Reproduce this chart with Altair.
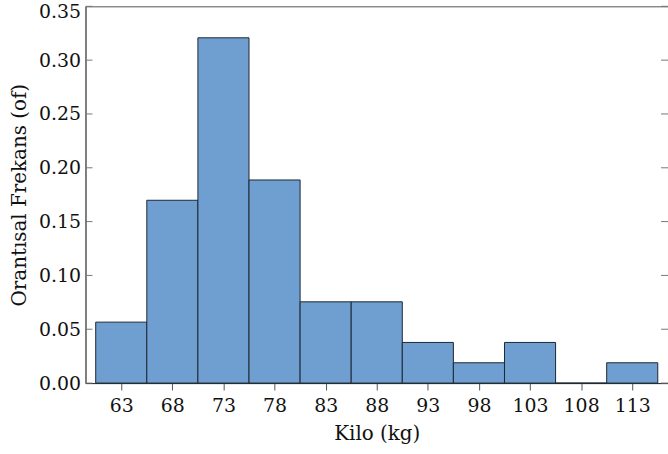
import altair as alt
import pandas as pd

bin_centers = [63, 68, 73, 78, 83, 88, 93, 98, 103, 108, 113]
counts = [3, 9, 17, 10, 4, 4, 2, 1, 2, 0, 1]
total = sum(counts)
rel_freq = [c / total for c in counts]
bin_width = 5
y_ticks = [0.0, 0.05, 0.10, 0.15, 0.20, 0.25, 0.30, 0.35]

df = pd.DataFrame({
    "center": bin_centers,
    "start": [c - bin_width / 2 for c in bin_centers],
    "end": [c + bin_width / 2 for c in bin_centers],
    "freq": rel_freq,
})
ticks_df = pd.DataFrame({"t": y_ticks})

W, H = 586, 379
FONT = "DejaVu Serif"

xs = alt.Scale(domain=[59.5, 116.5], nice=False, zero=False)
ys = alt.Scale(domain=[0, 0.35], nice=False)

bars = alt.Chart(df).mark_bar(
    color="#6f9fd0", stroke="#1c2733", strokeWidth=1, opacity=1
).encode(
    x=alt.X("start:Q", scale=xs,
            axis=alt.Axis(title="Kilo (kg)", values=bin_centers, format="d",
                          grid=False, tickSize=7, tickColor="#555",
                          domainColor="#333", labelPadding=7,
                          labelFontSize=19, titleFontSize=20,
                          titlePadding=8, labelFont=FONT, titleFont=FONT,
                          titleFontWeight="normal", labelColor="#111",
                          titleColor="#111")),
    x2="end:Q",
    y=alt.Y("freq:Q", scale=ys,
            axis=alt.Axis(title="Orantısal Frekans (of)", values=y_ticks,
                          format=".2f", grid=False, ticks=False, tickSize=0,
                          domainColor="#555", labelPadding=5,
                          labelOffset={"condition": {"test": "datum.value >= 0.349", "value": 5}, "value": 0},
                          labelFontSize=19, titleFontSize=20,
                          titlePadding=9, labelFont=FONT, titleFont=FONT,
                          titleFontWeight="normal", labelColor="#111",
                          titleColor="#111")),
    y2=alt.datum(0),
)

left_ticks = alt.Chart(ticks_df).mark_rule(color="#777", strokeWidth=1).encode(
    y=alt.Y("t:Q", scale=ys),
    x=alt.value(0),
    x2=alt.value(7),
)
right_ticks = alt.Chart(ticks_df).mark_rule(color="#777", strokeWidth=1).encode(
    y=alt.Y("t:Q", scale=ys),
    x=alt.value(W - 7),
    x2=alt.value(W),
)

chart = alt.layer(bars, left_ticks, right_ticks).properties(
    width=W, height=H,
    autosize=alt.AutoSizeParams(type="none"),
    padding={"left": 86, "top": 5, "right": 0, "bottom": 70},
    background="white",
).configure_view(stroke="#555", strokeWidth=1)

chart.save("out.html", embed_options={"renderer": "svg", "actions": False})
